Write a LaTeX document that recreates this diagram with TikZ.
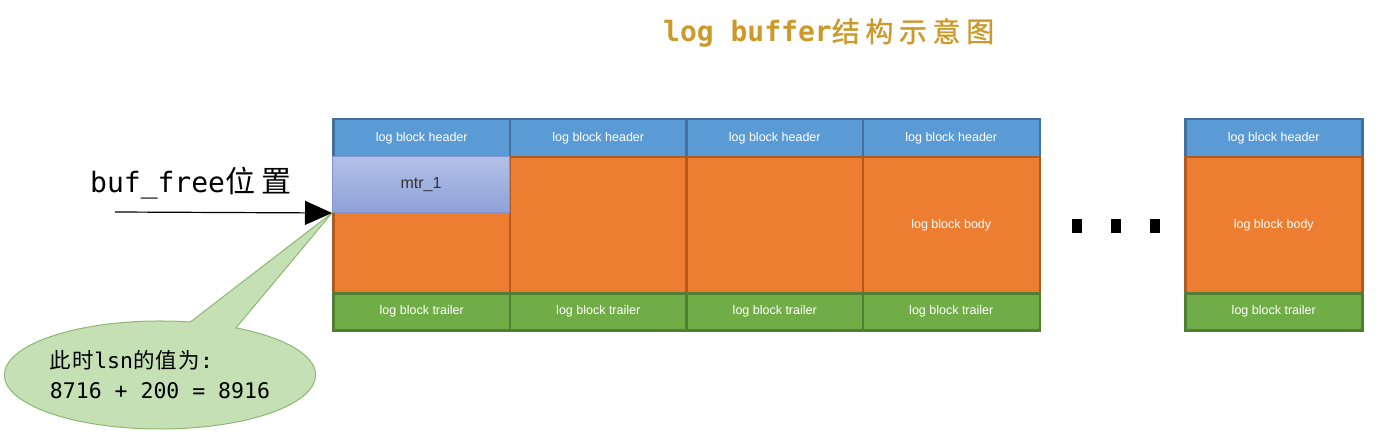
\documentclass[tikz,border=0pt]{standalone}
\usepackage{fontspec}
\setmainfont{Liberation Sans}
\newfontfamily\cjk[LetterSpace=6]{Noto Sans CJK SC}
\newfontfamily\cjkwide[LetterSpace=20]{Noto Sans CJK SC}
\newfontfamily\cjktitle[LetterSpace=20,FakeBold=1.2]{Noto Sans CJK SC}
\newfontfamily\mono{DejaVu Sans Mono}
\usetikzlibrary{arrows.meta,shapes.callouts,shapes.geometric}
\definecolor{hdrfill}{HTML}{5B9BD5}
\definecolor{hdrline}{HTML}{41719C}
\definecolor{bodyfill}{HTML}{ED7D31}
\definecolor{bodyline}{HTML}{AE5A21}
\definecolor{trlfill}{HTML}{70AD47}
\definecolor{trlline}{HTML}{507E32}
\definecolor{mtrtop}{HTML}{B3C0E8}
\definecolor{mtrbot}{HTML}{8EA1D8}
\definecolor{mtrline}{HTML}{7F93CF}
\definecolor{titlec}{HTML}{CC9A2A}
\definecolor{calfill}{HTML}{C5E0B4}
\definecolor{calline}{HTML}{8DB870}
\tikzset{
  cell/.style={draw, line width=2.5pt, anchor=north west, inner sep=0pt,
    text=white, font=\fontsize{12.5}{14}\selectfont, minimum width=177pt},
  hdr/.style={cell, fill=hdrfill, draw=hdrline, minimum height=38pt},
  bodycell/.style={cell, fill=bodyfill, draw=bodyline, minimum height=136pt},
  trl/.style={cell, fill=trlfill, draw=trlline, minimum height=37pt},
  mtrbox/.style={anchor=north west, inner sep=0pt, minimum width=177pt,
    minimum height=56pt, top color=mtrtop, bottom color=mtrbot, draw=mtrline,
    line width=1pt, text=black!80, font=\fontsize{16}{18}\selectfont},
  dotbox/.style={fill=black, minimum width=10pt, minimum height=14pt, inner sep=0pt},
  note/.style={ellipse callout, fill=calfill, draw=calline, line width=1pt,
    minimum width=296pt, minimum height=108pt, inner sep=0pt, align=left,
    callout pointer arc=18, font=\fontsize{21.5}{30}\selectfont},
  bigtext/.style={anchor=west, inner sep=0pt, font=\fontsize{28}{30}\selectfont}
}
\begin{document}
\begin{tikzpicture}[x=1pt,y=-1pt]
\useasboundingbox (0,0) rectangle (1380,446);
% title
\node[bigtext, text=titlec] (title) at (663,33) {{\mono\bfseries log buffer}{\cjktitle 结构示意图}};
% blocks
\foreach \i/\x/\lab in {1/332/,2/508.5/,3/685/,4/861.5/log block body,5/1184/log block body}{
  \node[hdr] (h\i) at (\x,118) {log block header};
  \node[bodycell] (b\i) at (\x,156) {\lab};
  \node[trl] (t\i) at (\x,292) {log block trailer};
}
% mtr_1
\node[mtrbox] (mtr) at (332,156) {mtr\_1};
% dots
\node[dotbox] (d1) at (1077,226) {};
\node[dotbox] (d2) at (1116,226) {};
\node[dotbox] (d3) at (1155,226) {};
% callout
\node[note, callout absolute pointer={(mtr.south west)}] (lsn) at (160,375)
  {{\cjk 此时}{\mono lsn}{\cjk 的值为}{\mono :}\\{\mono 8716 + 200 = 8916}};
% buf_free label and arrow
\node[bigtext] (buf) at (90,183) {{\mono buf\_free}{\fontsize{30}{30}\selectfont\cjkwide 位置}};
\coordinate (astart) at (115,212);
\draw[line width=1.2pt, -{Triangle[length=27pt,width=24pt]}] (astart) -- (mtr.south west);
\end{tikzpicture}
\end{document}
